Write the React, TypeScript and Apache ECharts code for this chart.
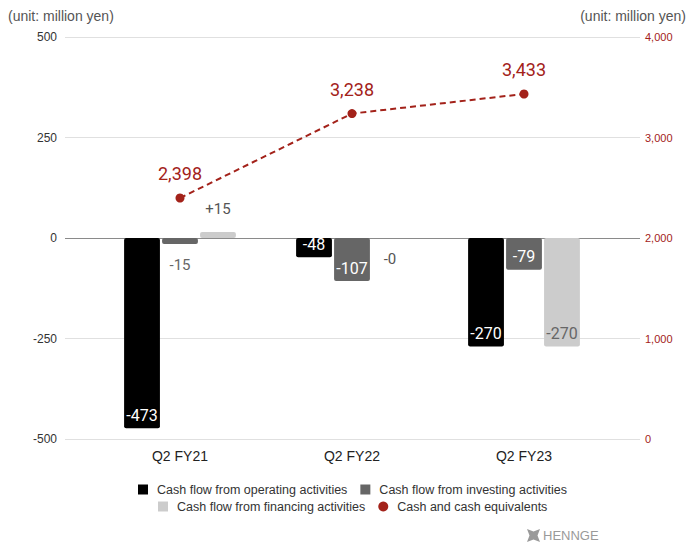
import React, { useEffect, useRef } from "react";
import * as echarts from "echarts";

const categories = ["Q2 FY21", "Q2 FY22", "Q2 FY23"];
const operating = [-473, -48, -270];
const investing = [-15, -107, -79];
const financing = [15, -0.2, -270];
const cashEquivalents = [2398, 3238, 3433];
const leftTicks = { min: -500, max: 500, interval: 250 };
const rightTicks = { min: 0, max: 4000, interval: 1000 };

const NAMES = [
  "Cash flow from operating activities",
  "Cash flow from investing activities",
  "Cash flow from financing activities",
  "Cash and cash equivalents",
];
const RED = "#a3221a";
const NUM_FONT = "Roboto, Arial, sans-serif";
const TXT_FONT = "Arial, 'Liberation Sans', sans-serif";

const fmtSigned = (v: number) => {
  const r = Math.round(Math.abs(v));
  return v < 0 ? "-" + r : "+" + r;
};

function barItems(values: number[], insideColor: string, outsideColor: string, signPositive: boolean) {
  return values.map((v) => {
    const inside = Math.abs(v) >= 40;
    return {
      value: v,
      label: {
        show: true,
        position: inside ? "insideBottom" : v >= 0 ? "top" : "bottom",
        distance: inside ? 5 : v >= 0 ? 15 : 13,
        color: inside ? insideColor : outsideColor,
        fontSize: inside ? 16 : 15,
        fontFamily: NUM_FONT,
        formatter: () => (signPositive ? fmtSigned(v) : String(Math.round(v))),
      },
    };
  });
}

export default function App() {
  const ref = useRef<HTMLDivElement>(null);
  useEffect(() => {
    if (!ref.current) return;
    const chart = echarts.init(ref.current, undefined, { renderer: "svg" });
    const gridBase = { top: 37, bottom: 104 };
    const legendText = { fontSize: 12.5, color: "#333", fontFamily: TXT_FONT, padding: [0, 0, 0, 4] };
    chart.setOption({
      animation: false,
      backgroundColor: "#ffffff",
      grid: [
        { ...gridBase, left: 65, right: 49 },
        { ...gridBase, left: 94, right: 79 },
      ],
      xAxis: [
        { gridIndex: 0, type: "value", show: false, min: 0, max: 1 },
        {
          gridIndex: 1,
          type: "category",
          data: categories,
          axisLine: { show: false },
          axisTick: { show: false },
          axisLabel: { margin: 10, fontSize: 14, color: "#222", fontFamily: TXT_FONT },
        },
      ],
      yAxis: [
        {
          gridIndex: 0,
          type: "value",
          position: "left",
          ...leftTicks,
          axisLine: { show: false },
          axisTick: { show: false },
          axisLabel: { margin: 8, fontSize: 12, color: "#333", fontFamily: TXT_FONT },
          splitLine: {
            show: true,
            lineStyle: { color: ["#e0e0e0", "#e0e0e0", "#8a8a8a", "#e0e0e0", "#e0e0e0"], width: 1 },
          },
        },
        {
          gridIndex: 0,
          type: "value",
          position: "right",
          ...rightTicks,
          axisLine: { show: false },
          axisTick: { show: false },
          splitLine: { show: false },
          axisLabel: {
            margin: 5,
            fontSize: 11,
            color: RED,
            fontFamily: TXT_FONT,
            formatter: (v: number) => v.toLocaleString("en-US"),
          },
        },
        { gridIndex: 1, type: "value", position: "left", ...leftTicks, show: false, splitLine: { show: false } },
        { gridIndex: 1, type: "value", position: "right", ...rightTicks, show: false, splitLine: { show: false } },
      ],
      legend: [
        {
          top: 478,
          left: 133,
          data: [NAMES[0], NAMES[1]],
          itemWidth: 10,
          itemHeight: 10,
          itemGap: 13,
          icon: "rect",
          textStyle: legendText,
        },
        {
          top: 495,
          left: 153,
          data: [{ name: NAMES[2], icon: "rect" }, { name: NAMES[3], icon: "circle" }],
          itemWidth: 10,
          itemHeight: 10,
          itemGap: 13,
          textStyle: legendText,
        },
      ],
      series: [
        {
          name: NAMES[0],
          type: "bar",
          xAxisIndex: 1,
          yAxisIndex: 2,
          barGap: "6%",
          barCategoryGap: "35%",
          itemStyle: { color: "#000000", borderRadius: 2 },
          data: barItems(operating, "#ffffff", "#333", false),
        },
        {
          name: NAMES[1],
          type: "bar",
          xAxisIndex: 1,
          yAxisIndex: 2,
          barGap: "6%",
          barCategoryGap: "35%",
          itemStyle: { color: "#666666", borderRadius: 2 },
          data: barItems(investing, "#ffffff", "#666666", false),
        },
        {
          name: NAMES[2],
          type: "bar",
          xAxisIndex: 1,
          yAxisIndex: 2,
          barGap: "6%",
          barCategoryGap: "35%",
          itemStyle: { color: "#cccccc", borderRadius: 2 },
          data: barItems(financing, "#666666", "#555555", true),
        },
        {
          name: NAMES[3],
          type: "line",
          xAxisIndex: 1,
          yAxisIndex: 3,
          data: cashEquivalents,
          symbol: "circle",
          symbolSize: 9,
          itemStyle: { color: RED },
          lineStyle: { color: RED, width: 2, type: [6, 4] },
          label: {
            show: true,
            position: "top",
            distance: 11,
            fontSize: 18,
            fontFamily: NUM_FONT,
            color: RED,
            formatter: (p: any) => Number(p.value).toLocaleString("en-US"),
          },
          z: 5,
        },
      ],
      graphic: [
        {
          type: "text",
          left: 8,
          top: 9,
          style: { text: "(unit: million yen)", fontSize: 14, fill: "#555", fontFamily: TXT_FONT },
        },
        {
          type: "text",
          right: 3,
          top: 9,
          style: { text: "(unit: million yen)", fontSize: 14, fill: "#555", fontFamily: TXT_FONT },
        },
        {
          type: "polygon",
          x: 527,
          y: 529,
          shape: {
            points: [
              [0, 0], [6.5, 2.5], [13, 0], [10.5, 6.5], [13, 13], [6.5, 10.5], [0, 13], [2.5, 6.5],
            ],
          },
          style: { fill: "#9a9a9a" },
        },
        {
          type: "text",
          left: 543,
          top: 529,
          style: { text: "HENNGE", fontSize: 13, fill: "#9a9a9a", fontFamily: TXT_FONT },
        },
      ],
    });
    return () => chart.dispose();
  }, []);
  return <div ref={ref} style={{ position: "fixed", left: 0, top: 0, width: 689, height: 543 }} />;
}
